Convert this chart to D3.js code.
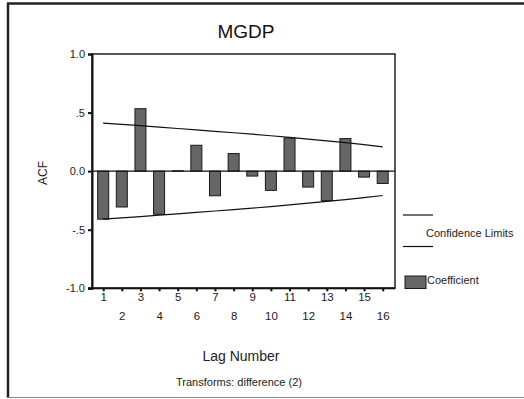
<!DOCTYPE html>
<html>
<head>
<meta charset="utf-8">
<script src="https://cdn.jsdelivr.net/npm/d3@7"></script>
<style>
  html, body { margin: 0; padding: 0; background: #fff; }
  svg { display: block; font-family: "Liberation Sans", Arial, sans-serif; }
</style>
</head>
<body>
<svg id="chart" width="524" height="399"></svg>
<script>
const title = "MGDP";
const lags = [1, 2, 3, 4, 5, 6, 7, 8, 9, 10, 11, 12, 13, 14, 15, 16];
const acf = [-0.41, -0.306, 0.533, -0.368, 0.003, 0.221, -0.21, 0.15, -0.042, -0.164, 0.283, -0.136, -0.252, 0.278, -0.051, -0.105];
const upperLimit = [0.410, 0.399, 0.388, 0.376, 0.364, 0.352, 0.340, 0.328, 0.316, 0.302, 0.288, 0.273, 0.258, 0.243, 0.226, 0.208];
const lowerLimit = [-0.410, -0.399, -0.388, -0.376, -0.364, -0.352, -0.340, -0.328, -0.316, -0.302, -0.288, -0.273, -0.258, -0.243, -0.226, -0.208];
const yTicks = [-1, -0.5, 0, 0.5, 1];
const yTickLabels = ["-1.0", "-.5", "0.0", ".5", "1.0"];
const xLabel = "Lag Number";
const yLabel = "ACF";
const note = "Transforms: difference (2)";
const legendLabels = ["Confidence Limits", "Coefficient"];

(function () {
const svg = d3.select("#chart");
const pLeft = 92, pRight = 395, pTop = 54, pBottom = 288.3;

// outer frame
svg.append("line").attr("x1", 8).attr("x2", 8).attr("y1", 3).attr("y2", 398)
  .attr("stroke", "#222").attr("stroke-width", 2.5);
svg.append("line").attr("x1", 7).attr("x2", 524).attr("y1", 3.5).attr("y2", 3.5)
  .attr("stroke", "#222").attr("stroke-width", 2.5);
svg.append("line").attr("x1", 7).attr("x2", 524).attr("y1", 397.5).attr("y2", 397.5)
  .attr("stroke", "#888").attr("stroke-width", 1.2);

const x = d3.scaleLinear().domain([0.4, 16.66]).range([pLeft, pRight]);
const y = d3.scaleLinear().domain([-1, 1]).range([pBottom, pTop]);

// title
svg.append("text").attr("x", 246).attr("y", 37.5).attr("text-anchor", "middle")
  .attr("font-size", 19).attr("fill", "#111").text(title);

// plot frame
svg.append("rect").attr("x", pLeft).attr("y", pTop).attr("width", pRight - pLeft).attr("height", pBottom - pTop)
  .attr("fill", "none").attr("stroke", "#222").attr("stroke-width", 1.5);

// bars
svg.append("g").selectAll("rect").data(lags).join("rect")
  .attr("x", (d) => x(d) - 5.5)
  .attr("width", 11)
  .attr("y", (d, i) => y(Math.max(0, acf[i])))
  .attr("height", (d, i) => Math.abs(y(acf[i]) - y(0)))
  .attr("fill", "#666").attr("stroke", "#1a1a1a").attr("stroke-width", 1);

// zero line
svg.append("line").attr("x1", pLeft).attr("x2", pRight).attr("y1", y(0)).attr("y2", y(0))
  .attr("stroke", "#111").attr("stroke-width", 1.2);

// confidence limits
const line = d3.line().x((d) => x(d[0])).y((d) => y(d[1]));
svg.append("path").datum(lags.map((l, i) => [l, upperLimit[i]])).attr("d", line)
  .attr("fill", "none").attr("stroke", "#111").attr("stroke-width", 1.2);
svg.append("path").datum(lags.map((l, i) => [l, lowerLimit[i]])).attr("d", line)
  .attr("fill", "none").attr("stroke", "#111").attr("stroke-width", 1.2);

// y axis
const yAxis = svg.append("g").attr("transform", `translate(${pLeft},0)`)
  .call(d3.axisLeft(y).tickValues(yTicks).tickSize(4).tickPadding(3)
    .tickFormat((d, i) => yTickLabels[i]));
yAxis.select(".domain").attr("stroke", "#111").attr("stroke-width", 2);
yAxis.selectAll(".tick line").attr("stroke", "#111").attr("stroke-width", 2);
yAxis.selectAll("text").attr("font-size", 11).attr("fill", "#222")
  .attr("font-family", "Liberation Sans, Arial, sans-serif");

// x axis
const xAxis = svg.append("g").attr("transform", `translate(0,${pBottom})`)
  .call(d3.axisBottom(x).tickValues(lags).tickSize(3).tickSizeOuter(0).tickFormat((d) => d));
xAxis.select(".domain").attr("stroke", "#111").attr("stroke-width", 2)
  .attr("d", `M${pLeft - 4},0H${pRight}`);
xAxis.selectAll(".tick line").attr("stroke", "#111").attr("stroke-width", 2);
xAxis.selectAll("text").attr("font-size", 11.5).attr("fill", "#222")
  .attr("font-family", "Liberation Sans, Arial, sans-serif")
  .attr("y", (d) => (d % 2 === 1 ? 5 : 24)).attr("dy", "0.71em");

// axis titles
svg.append("text").attr("transform", "translate(46.5,173) rotate(-90)")
  .attr("text-anchor", "middle").attr("font-size", 12).attr("fill", "#222").text(yLabel);
svg.append("text").attr("x", 241).attr("y", 361).attr("text-anchor", "middle")
  .attr("font-size", 14).attr("fill", "#222").text(xLabel);
svg.append("text").attr("x", 239).attr("y", 385.5).attr("text-anchor", "middle")
  .attr("font-size", 11).attr("fill", "#222").text(note);

// legend
const lg = svg.append("g");
lg.append("line").attr("x1", 403).attr("x2", 433).attr("y1", 215).attr("y2", 215)
  .attr("stroke", "#111").attr("stroke-width", 1.2);
lg.append("line").attr("x1", 403).attr("x2", 433).attr("y1", 246.5).attr("y2", 246.5)
  .attr("stroke", "#111").attr("stroke-width", 1.2);
lg.append("text").attr("x", 426).attr("y", 237).attr("font-size", 11).attr("fill", "#222")
  .text(legendLabels[0]);
lg.append("rect").attr("x", 405).attr("y", 276).attr("width", 21).attr("height", 12.5)
  .attr("fill", "#666").attr("stroke", "#1a1a1a").attr("stroke-width", 1);
lg.append("text").attr("x", 427).attr("y", 284).attr("font-size", 11).attr("fill", "#222")
  .text(legendLabels[1]);
})();
</script>
</body>
</html>
